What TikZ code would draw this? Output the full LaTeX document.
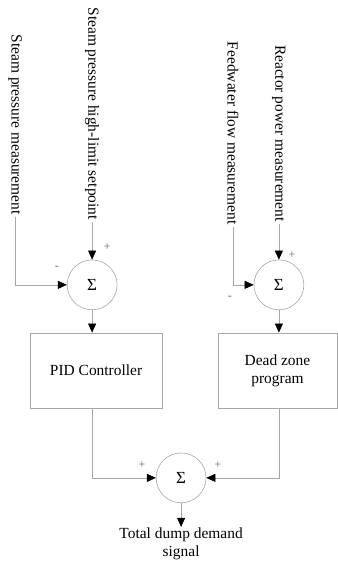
\documentclass[tikz,border=0pt]{standalone}
\usepackage{fontspec}
\setmainfont{Liberation Serif}
\usetikzlibrary{arrows.meta}

\tikzset{
    sumnode/.style={draw=gray!70, circle, line width=0.6pt, minimum size=1.76cm, inner sep=0pt, font=\fontsize{17}{20}\selectfont},
    blockbox/.style={draw=gray!70, rectangle, line width=0.6pt, minimum height=2.65cm, align=center},
    signal/.style={rotate=-90, anchor=east, inner sep=2pt},
    wire/.style={draw=gray!70, line width=0.6pt},
    flow/.style={wire, -{Triangle[length=9pt, width=8pt, black]}},
    sign/.style={font=\fontsize{12}{14}\selectfont, inner sep=0pt, text=gray!80!black}
}

\begin{document}
\begin{tikzpicture}[font=\fontsize{15.5}{18}\selectfont]
    \useasboundingbox (0,0) rectangle (11.89,-20.04);

    % Summing junctions
    \node[sumnode] (sum1) at (3.25,-10.05) {Σ};
    \node[sumnode] (sum2) at (9.84,-10.05) {Σ};
    \node[sumnode] (sum3) at (6.39,-16.86) {Σ};

    % Blocks
    \node[blockbox, minimum width=4.66cm] (pid) at (3.39,-13.07) {PID Controller};
    \node[blockbox, minimum width=4.2cm] (dzp) at (9.79,-13.07) {Dead zone\\program};

    % Input signals
    \node[signal] (spm) at (0.53,-7.65) {Steam pressure measurement};
    \node[signal] (sps) at (3.25,-7.83) {Steam pressure high-limit setpoint};
    \node[signal] (ffm) at (8.22,-8.0) {Feedwater flow measurement};
    \node[signal] (rpm) at (9.84,-7.9) {Reactor power measurement};

    % Signs
    \node[sign] (p1) at (3.78,-8.71) {+};
    \node[sign] (m1) at (2.01,-9.46) {-};
    \node[sign] (p2) at (10.30,-9.0) {+};
    \node[sign] (m2) at (8.11,-10.51) {-};
    \node[sign] (p3) at (5.01,-16.4) {+};
    \node[sign] (p4) at (7.69,-16.4) {+};

    % Output
    \coordinate (out) at (6.39,-18.59);
    \node[anchor=north, align=center, inner sep=1pt] (tdd) at (out) {Total dump demand\\signal};

    % Arrows
    \draw[flow] (spm.east) |- (sum1.west);
    \draw[flow] (sps.east) -- (sum1.north);
    \draw[flow] (ffm.east) |- (sum2.west);
    \draw[flow] (rpm.east) -- (sum2.north);
    \draw[flow] (sum1.south) -- (sum1.south |- pid.north);
    \draw[flow] (sum2.south) -- (sum2.south |- dzp.north);
    \draw[flow] (sum1 |- pid.south) |- (sum3.west);
    \draw[flow] (sum2 |- dzp.south) |- (sum3.east);
    \draw[flow] (sum3.south) -- (out);
\end{tikzpicture}
\end{document}
